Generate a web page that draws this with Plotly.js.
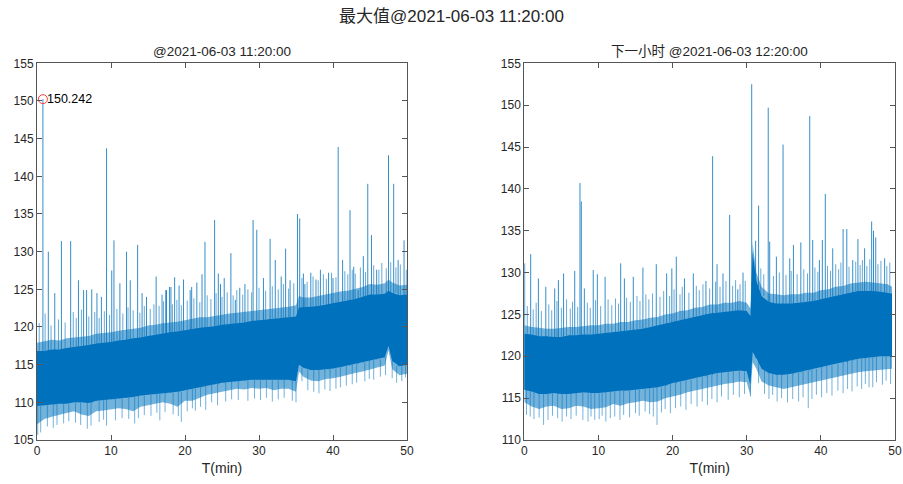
<!DOCTYPE html>
<html>
<head>
<meta charset="utf-8">
<script src="https://cdn.plot.ly/plotly-3.0.1.min.js"></script>
<style>html,body{margin:0;padding:0;background:#fff;}#chart{width:903px;height:484px;}</style>
</head>
<body>
<div id="chart"></div>
<script>
// ---------- Left panel: 11:20:00 (band envelope read per minute) ----------
const tL = [0,1,2,3,4,5,6,7,8,9,10,11,12,13,14,15,16,17,18,19,20,21,22,23,24,25,26,27,28,29,30,31,32,33,34,35,35.4,36,37,38,39,40,41,42,43,44,45,46,47,47.5,48,49,50];
const coreTopL = [116.8,116.8,117,117,117.2,117.3,117.5,117.6,117.8,117.9,118,118.2,118.3,118.5,118.6,118.8,119,119.2,119.3,119.4,119.6,119.7,119.9,120,120.1,120.3,120.4,120.5,120.6,120.8,120.9,121,121.1,121.2,121.3,121.4,122.6,122.6,122.7,122.8,123,123.1,123.3,123.5,123.7,124,124.3,124.3,124.4,124.8,124.5,124.2,124.3];
const coreBotL = [109.5,109.6,109.7,109.8,109.8,110,110,109.9,110.2,110.3,110.4,110.5,110.6,110.7,110.9,111,111.1,111.2,111.3,111.4,111.6,111.8,112,112.2,112.4,112.6,112.7,112.8,112.9,113,113,113,113,113,113,112.8,115,114.6,114.3,114.3,114.4,114.5,114.7,114.9,115.1,115.3,115.6,115.7,116,117.5,115.5,114.8,115];
const fringeTopL = [117.9,118.1,118.3,118.2,118.5,118.6,118.7,118.8,119.1,119.2,119.3,119.5,119.6,119.7,119.9,120.2,120.3,120.5,120.6,120.7,120.9,121.1,121.3,121.3,121.5,121.7,121.8,121.9,122.0,122.2,122.3,122.4,122.5,122.6,122.7,122.9,124.1,123.9,123.9,124.1,124.3,124.4,124.7,124.8,125.0,125.3,125.7,125.6,125.8,126.3,125.9,125.5,125.6];
const fringeBotL = [107.1,107.8,108.1,108.4,108.6,108.8,108.4,108.2,108.8,108.9,109.0,109.2,109.1,108.8,109.4,109.6,109.8,110.0,109.8,109.4,110.2,110.2,110.6,111.0,111.2,111.4,111.6,111.8,111.7,111.9,111.8,111.9,111.6,111.8,111.8,111.4,114.1,113.4,112.9,112.8,113.1,113.2,113.4,113.6,113.9,114.1,114.4,114.6,114.9,116.9,114.4,113.6,113.8];
// tall spikes
const spikeTL = [0.8,1.53,2.4,3.3,4.55,5.6,6.3,6.7,7.4,8.1,8.7,9.4,10.1,10.4,11.2,12.1,12.6,13.6,14.2,14.8,16.1,16.9,17.4,17.5,17.9,18.1,18.6,19.2,19.8,20.7,20.9,21.6,22.3,22.7,24.0,24.5,24.8,25.3,26.2,26.8,27.4,28.1,29.2,29.7,30.6,31.5,32.2,33.0,33.6,34.2,35.2,35.5,36.0,36.2,37.0,37.7,38.3,39.4,40.0,40.7,41.3,42.3,42.8,43.4,44.1,44.7,45.2,45.9,47.5,48.2,48.8,49.6];
const spikeVL = [150.242,130.0,124.5,131.4,131.4,126.2,124.9,124.9,125.0,124.5,124.0,143.7,127.5,131.5,125.8,130.0,126.2,130.9,124.5,124.0,126.7,124.3,124.9,124.9,125.3,125.3,126.6,125.5,126.3,124.9,125.3,125.9,127.0,131.3,134.2,127.1,125.7,126.5,129.8,123.6,125.2,125.7,134.2,132.9,126.5,131.7,128.9,126.7,130.4,126.2,135.0,134.4,127.1,125.7,127.2,126.3,127.6,127.2,126.5,143.9,128.9,135.5,128.0,124.9,129.4,139.0,132.2,127.6,142.8,139.0,128.9,131.5];
// small spikes along the upper edge
const edgeUpTL = [0.3,1.1,1.9,2.9,3.8,4.9,5.3,6.0,7.0,7.8,8.4,9.1,9.8,10.8,11.6,12.3,13.0,13.9,14.5,15.3,15.8,16.5,17.1,18.3,18.9,19.5,20.3,21.2,22.0,23.0,23.5,24.2,25.0,25.7,26.5,27.0,27.8,28.5,29.0,30.0,30.9,31.8,32.6,33.3,34.0,34.7,35.8,36.5,37.3,38.0,38.7,39.1,39.8,40.4,41.6,42.0,42.6,43.0,43.7,44.4,45.5,46.2,46.6,47.2,47.8,48.5,49.1,49.9];
const edgeUpVL = [120.5,121.8,120.2,121.0,120.6,122.0,121.2,122.3,121.4,122.0,121.2,122.1,121.6,122.4,121.8,122.6,122.2,121.9,122.8,122.4,123.0,122.8,123.4,123.0,123.6,122.9,123.5,123.8,123.3,124.2,123.7,124.5,124.0,124.6,124.2,124.9,124.3,125.0,124.6,125.2,124.8,125.4,125.0,125.7,125.1,125.8,126.5,126.0,126.7,126.2,127.0,126.4,127.2,126.6,127.4,127.0,127.6,127.1,127.9,127.3,128.2,127.6,128.5,127.8,128.6,127.9,128.3,127.6];
// dips below the band
const dipTL = [0.1,0.5,1.4,2.2,2.7,3.6,4.3,5.2,5.9,6.8,7.3,8.4,9.0,9.4,10.6,11.5,12.4,13.2,13.7,14.5,15.4,16.2,16.6,17.3,18.4,19.1,19.5,20.3,21.0,21.4,22.1,22.8,23.6,24.4,25.5,26.3,27.2,28.5,29.4,30.2,31.0,31.8,32.6,33.4,34.5,35.0,35.8,36.6,37.4,38.1,38.9,39.6,40.4,41.0,41.8,42.6,43.2,44.3,44.9,45.5,46.4,47.1,48.0,48.6,49.3,49.8];
const dipVL = [105.7,106.0,106.8,106.6,107.0,107.2,107.5,107.3,107.0,106.5,106.9,107.4,107.7,106.9,107.6,107.9,107.8,107.2,107.9,108.3,108.2,108.6,107.6,108.7,108.4,108.2,107.4,108.8,109.2,108.9,109.4,109.0,110.0,109.6,110.1,110.4,110.3,110.2,110.5,110.3,110.6,110.1,110.4,110.6,110.2,110.0,112.8,111.6,111.4,111.2,111.7,111.5,111.8,112.0,112.2,112.4,112.6,112.8,113.1,113.0,113.4,113.6,113.2,112.6,112.8,113.3];
const maxT = 0.8, maxV = 150.242;

// ---------- Right panel: next hour 12:20:00 ----------
const tR = [0,1,2,3,4,5,6,7,8,9,10,11,12,13,14,15,16,17,18,19,20,21,22,23,24,25,26,27,28,29,30,30.5,30.8,31.3,32,33,34,35,36,37,38,39,40,41,42,43,44,45,46,47,48,49,49.6];
const coreTopR = [122.7,122.6,122.4,122.4,122.3,122.3,122.5,122.5,122.6,122.6,122.7,122.8,122.9,123,123.1,123.2,123.3,123.5,123.7,123.9,124.1,124.3,124.5,124.7,124.9,125.1,125.2,125.3,125.4,125.5,125.4,124.8,132.5,129,127.2,126.5,126.3,126.3,126.3,126.4,126.5,126.6,126.8,127,127.2,127.4,127.6,127.8,127.8,127.8,127.7,127.6,127.5];
const coreBotR = [116,115.8,115.5,115.5,115.6,115.5,115.5,115.6,115.7,115.6,115.6,115.7,115.8,115.9,115.9,116,116.1,116.2,116.3,116.5,116.8,117,117.2,117.4,117.6,117.8,118,118.1,118.2,118.3,118.2,116.5,120.5,119.8,118.5,118,117.8,117.8,117.9,118.1,118.3,118.5,118.7,118.9,119.1,119.3,119.5,119.7,119.8,119.9,120,120,120];
const fringeTopR = [123.7,123.5,123.4,123.3,123.3,123.4,123.5,123.5,123.6,123.7,123.7,123.9,123.9,124.1,124.1,124.3,124.4,124.6,124.7,125.0,125.1,125.4,125.5,125.8,125.9,126.2,126.2,126.4,126.4,126.6,126.4,125.7,133.5,130.0,128.3,127.5,127.4,127.3,127.4,127.4,127.6,127.6,127.9,128.0,128.3,128.4,128.7,128.8,128.9,128.8,128.7,128.6,128.3];
const fringeBotR = [114.5,114.0,113.7,114.0,114.1,113.7,113.8,114.1,114.0,113.7,113.8,113.9,114.3,114.1,114.4,114.5,114.7,114.5,114.6,115.0,115.2,115.4,115.7,115.9,116.1,116.3,116.5,116.7,116.8,117.0,116.9,115.3,119.3,118.5,117.0,116.5,116.3,116.1,116.3,116.5,116.7,116.9,117.1,117.3,117.5,117.7,117.9,118.1,118.2,118.3,118.4,118.5,118.5];
const spikeTR = [0.05,0.86,1.9,2.9,4.1,4.6,5.3,6.8,7.51,7.69,8.1,9.3,9.85,10.9,13.0,13.5,14.7,16.0,17.8,19.2,19.9,20.5,21.6,22.8,24.5,25.4,26.0,26.8,27.7,28.8,29.5,30.67,31.2,31.6,32.9,33.1,34.0,34.9,35.8,36.3,37.3,38.5,38.9,39.8,40.2,40.6,41.6,43.0,43.5,44.3,45.0,45.9,46.85,47.1,47.4,48.6];
const spikeVR = [131.1,132.2,129.3,128.3,128.1,129.1,129.9,130.2,140.7,138.5,128.1,130.3,129.8,129.5,131.1,129.3,129.5,130.6,131.0,129.9,130.5,131.9,129.3,129.9,129.0,143.9,131.0,129.9,136.9,128.0,130.0,152.5,133.8,138.0,149.7,133.7,131.9,145.3,131.7,133.3,133.6,148.7,133.9,131.5,133.9,139.4,132.9,135.2,135.2,131.5,134.0,132.9,136.1,135.0,134.2,131.7];
const edgeUpTR = [0.4,1.2,1.6,2.3,3.3,3.7,4.4,5.0,5.7,6.2,6.5,7.2,8.5,8.9,9.6,10.3,11.3,11.8,12.3,12.7,13.8,14.3,15.2,15.6,16.4,16.8,17.3,18.3,18.8,19.6,20.2,21.0,21.3,22.2,23.2,23.6,24.1,25.0,25.8,26.4,27.2,28.1,28.5,29.1,29.8,31.9,32.3,33.6,34.4,35.3,36.0,36.8,37.7,38.2,39.2,39.6,40.9,41.3,42.0,42.4,42.7,43.8,44.7,45.3,45.6,46.2,46.6,47.7,48.1,48.9,49.3];
const edgeUpVR = [126.0,125.6,126.4,125.4,126.2,125.5,126.6,125.8,126.8,125.7,126.5,125.9,126.4,125.8,126.7,126.0,126.8,126.1,126.9,126.3,127.0,126.5,127.2,126.6,127.4,126.8,127.5,127.1,127.8,127.2,128.0,127.4,128.3,127.6,128.4,127.9,128.6,128.1,128.9,128.3,129.0,128.4,129.1,128.6,129.0,130.5,129.8,129.6,130.0,129.7,130.2,129.8,130.4,129.9,130.6,130.1,130.8,130.2,131.0,130.4,131.2,130.7,131.3,130.9,131.5,130.8,131.6,131.0,131.4,130.8,131.2];
const dipTR = [0.3,0.8,1.3,2.0,2.6,3.2,3.8,4.5,5.1,5.7,6.3,7.0,7.9,8.6,9.0,9.5,10.1,10.5,11.0,11.6,12.2,12.9,13.4,14.2,15.0,15.5,16.3,16.9,17.4,17.9,18.5,19.0,19.7,20.4,21.1,21.8,22.5,23.3,24.0,24.7,25.3,26.0,26.6,27.5,28.2,29.0,29.7,30.5,31.6,32.4,33.0,33.5,34.1,34.7,35.5,36.2,37.0,37.6,38.3,38.8,39.4,40.1,40.8,41.5,42.3,43.0,43.6,44.2,44.9,45.5,46.0,46.5,47.0,47.5,48.3,48.8,49.4];
const dipVR = [113.0,112.8,112.5,112.7,111.8,112.4,112.9,112.6,112.2,112.8,112.5,112.9,112.4,112.2,112.8,112.4,112.5,112.9,112.2,112.6,112.8,112.4,113.0,112.7,113.2,112.9,113.4,113.1,112.8,111.8,113.3,113.7,113.2,113.8,114.0,113.6,114.3,114.0,114.6,114.2,114.9,114.5,115.2,114.8,115.4,115.1,115.5,115.2,116.8,115.5,114.9,115.4,114.6,115.0,114.5,114.9,114.6,115.1,113.8,114.9,115.4,115.1,115.6,115.3,115.9,115.6,116.1,115.8,116.4,116.1,116.7,116.3,116.3,116.9,116.6,117.1,116.7];

// ---------- text ----------
const mainTitle = '最大值@2021-06-03 11:20:00';
const leftTitle = '@2021-06-03 11:20:00';
const rightTitle = '下一小时 @2021-06-03 12:20:00';
const xLabel = 'T(min)';
const xTicks = [0,10,20,30,40,50];
const yTicksL = [105,110,115,120,125,130,135,140,145,150,155];
const yTicksR = [110,115,120,125,130,135,140,145,150,155];

const BLUE = '#0072BD';
const FRINGE = 'rgba(0,114,189,0.55)';
const FONT = 'Liberation Sans, Arial, Noto Sans CJK SC, sans-serif';

function nearestIdx(arr, v){let b=0;for(let i=1;i<arr.length;i++){if(Math.abs(arr[i]-v)<Math.abs(arr[b]-v))b=i;}return b;}
function segs(ts, vs, tArr, baseArr){
  const x=[],y=[];
  ts.forEach((t,i)=>{const b=baseArr[nearestIdx(tArr,t)];x.push(t,t,null);y.push(b,vs[i],null);});
  return {x,y};
}
function line(s, xa, ya, color, w){
  return {x:s.x,y:s.y,xaxis:xa,yaxis:ya,type:'scatter',mode:'lines',line:{width:w,color:color},connectgaps:false,hoverinfo:'skip'};
}
function panel(t, fB, fT, cB, cT, sT, sV, eT, eV, dT, dV, xa, ya){
  return [
    {x:t,y:fB,xaxis:xa,yaxis:ya,type:'scatter',mode:'lines',line:{width:0,color:FRINGE},hoverinfo:'skip'},
    {x:t,y:fT,xaxis:xa,yaxis:ya,type:'scatter',mode:'lines',line:{width:0,color:FRINGE},fill:'tonexty',fillcolor:FRINGE,hoverinfo:'skip'},
    line(segs(eT, eV, t, cT), xa, ya, 'rgba(0,114,189,0.6)', 1),
    line(segs(dT, dV, t, cB), xa, ya, 'rgba(0,114,189,0.55)', 1),
    {x:t,y:cB,xaxis:xa,yaxis:ya,type:'scatter',mode:'lines',line:{width:0,color:BLUE},hoverinfo:'skip'},
    {x:t,y:cT,xaxis:xa,yaxis:ya,type:'scatter',mode:'lines',line:{width:0,color:BLUE},fill:'tonexty',fillcolor:BLUE,hoverinfo:'skip'},
    line(segs(sT, sV, t, cB), xa, ya, 'rgba(0,114,189,0.8)', 1)
  ];
}

const data = [].concat(
  panel(tL, fringeBotL, fringeTopL, coreBotL, coreTopL, spikeTL, spikeVL, edgeUpTL, edgeUpVL, dipTL, dipVL, 'x', 'y'),
  panel(tR, fringeBotR, fringeTopR, coreBotR, coreTopR, spikeTR, spikeVR, edgeUpTR, edgeUpVR, dipTR, dipVR, 'x2', 'y2'),
  [{x:[maxT],y:[maxV],xaxis:'x',yaxis:'y',type:'scatter',mode:'markers',marker:{symbol:'circle-open',size:9,color:'#FF3B3B',line:{width:1,color:'#FF3B3B'}},hoverinfo:'skip'}]
);

const axisBase = {
  showline:true, linecolor:'#555', linewidth:1, mirror:'ticks',
  ticks:'inside', ticklen:5, tickcolor:'#555', tickwidth:1,
  showgrid:false, zeroline:false,
  tickfont:{family:FONT,size:12,color:'#262626'}
};
const yDom = [1-440/484, 1-63.3/484];
const layout = {
  width:903, height:484, autosize:false,
  margin:{l:0,r:0,t:0,b:0},
  paper_bgcolor:'#fff', plot_bgcolor:'#fff',
  showlegend:false,
  title:{text:mainTitle, x:0.5, xanchor:'center', xref:'paper', y:1-16/484, yanchor:'middle', yref:'container', font:{family:FONT,size:17,color:'#262626'}},
  xaxis:Object.assign({}, axisBase, {domain:[37/903,407/903], range:[0,50], tickvals:xTicks, anchor:'y',
    title:{text:xLabel, font:{family:FONT,size:14,color:'#262626'}, standoff:5}}),
  yaxis:Object.assign({}, axisBase, {domain:yDom, range:[105,155], tickvals:yTicksL, anchor:'x'}),
  xaxis2:Object.assign({}, axisBase, {domain:[524.3/903,895/903], range:[0,50], tickvals:xTicks, anchor:'y2',
    title:{text:xLabel, font:{family:FONT,size:14,color:'#262626'}, standoff:5}}),
  yaxis2:Object.assign({}, axisBase, {domain:yDom, range:[110,155], tickvals:yTicksR, anchor:'x2'}),
  annotations:[
    {text:leftTitle, xref:'paper', yref:'paper', x:(37+407)/2/903, y:1-52/484, xanchor:'center', yanchor:'middle', showarrow:false, font:{family:FONT,size:13.5,color:'#262626'}},
    {text:rightTitle, xref:'paper', yref:'paper', x:(524.3+895)/2/903, y:1-52/484, xanchor:'center', yanchor:'middle', showarrow:false, font:{family:FONT,size:13.5,color:'#262626'}},
    {text:String(maxV), xref:'x', yref:'y', x:maxT, y:maxV, xanchor:'left', yanchor:'middle', xshift:2, showarrow:false, font:{family:FONT,size:12.5,color:'#000'}}
  ]
};
Plotly.newPlot('chart', data, layout, {staticPlot:true, displayModeBar:false});
</script>
</body>
</html>
